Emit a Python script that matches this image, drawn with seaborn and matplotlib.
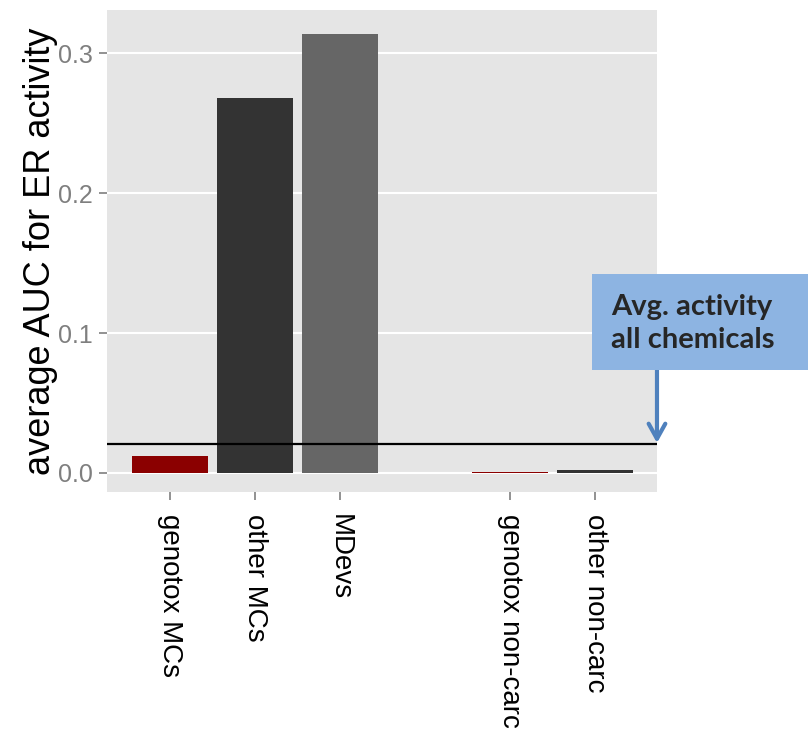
import matplotlib
matplotlib.use("Agg")
import matplotlib.pyplot as plt
import pandas as pd
import seaborn as sns
from matplotlib.patches import Rectangle

# values
categories = ["genotox MCs", "other MCs", "MDevs", "genotox non-carc", "other non-carc"]
auc_values = [0.012, 0.268, 0.3135, 0.0006, 0.0018]
bar_colors = ["#8B0000", "#333333", "#666666", "#8B0000", "#333333"]
avg_all_chemicals = 0.0207
y_ticks = [0.0, 0.1, 0.2, 0.3]

spacer = " "
order = categories[:3] + [spacer] + categories[3:]
df = pd.DataFrame({"group": categories, "auc": auc_values})
palette = dict(zip(categories, bar_colors))

sns.set_theme(style="darkgrid", rc={"axes.facecolor": "#E5E5E5", "grid.color": "white"})
plt.rcParams["font.family"] = ["Liberation Sans", "DejaVu Sans"]

fig = plt.figure(figsize=(8.08, 7.29), dpi=100)
ax = fig.add_axes([0.1324, 0.3251, 0.6807, 0.6612])

sns.barplot(data=df, x="group", y="auc", hue="group", order=order, palette=palette,
            width=0.9, saturation=1, legend=False, ax=ax, errorbar=None,
            edgecolor="none", linewidth=0)

ax.axhline(avg_all_chemicals, color="black", linewidth=1.6, zorder=5)

ax.set_xlim(-0.74, 5.73)
ax.set_ylim(-0.0136, 0.331)
ax.set_yticks(y_ticks)
ax.set_yticklabels([f"{v:.1f}" for v in y_ticks])
tick_pos = [order.index(c) for c in categories]
ax.set_xticks(tick_pos)
ax.set_xticklabels(categories, rotation=270, va="top", ha="center")

ax.grid(axis="x", visible=False)
ax.grid(axis="y", color="white", linewidth=1.5)
for s in ax.spines.values():
    s.set_visible(False)

ax.tick_params(axis="y", labelsize=18, labelcolor="#7F7F7F", color="#7F7F7F",
               length=6, width=1.2, left=True, pad=4)
ax.tick_params(axis="x", labelsize=20, labelcolor="black", color="#7F7F7F",
               length=6, width=1.2, bottom=True, pad=10)

ax.set_xlabel("")
ax.set_ylabel("average AUC for ER activity", fontsize=26, color="black", labelpad=0)

# annotation box outside the panel
fig.patches.append(Rectangle((0.7327, 0.4925), 0.2673, 0.1317, transform=fig.transFigure,
                             facecolor="#8DB4E2", edgecolor="none", zorder=10))
fig.text(0.756, 0.5565, "Avg. activity\nall chemicals", transform=fig.transFigure,
         fontsize=21, fontweight="bold", family=["Lato", "DejaVu Sans"],
         va="center", ha="left", linespacing=1.35, zorder=11)

ax.annotate("", xy=(0.8131, 1 - 443 / 729), xycoords="figure fraction",
            xytext=(0.8131, 0.4925), textcoords="figure fraction",
            arrowprops=dict(arrowstyle="->,head_length=0.9,head_width=0.5",
                            color="#4F81BD", linewidth=3, shrinkA=0, shrinkB=0),
            annotation_clip=False, zorder=12)

fig.savefig("out.png", dpi=100)
